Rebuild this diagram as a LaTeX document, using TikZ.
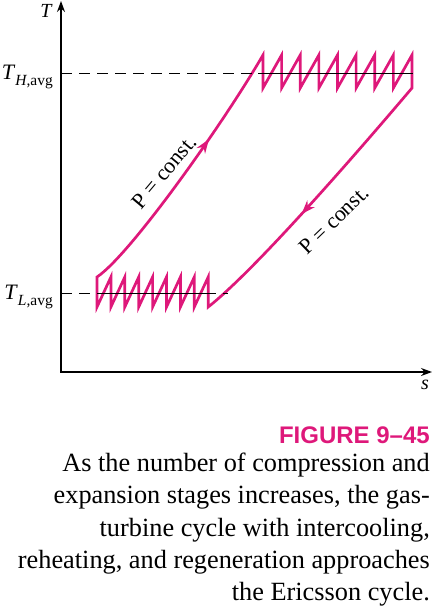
\documentclass[tikz,border=0pt]{standalone}
\usepackage{fontspec}
\setmainfont{Liberation Serif}
\newfontfamily\figfont{Liberation Sans}
\usetikzlibrary{arrows.meta, decorations.markings}
\definecolor{cyclemag}{RGB}{222, 24, 122}
\newcommand{\Tavg}[1]{\textit{T}\raisebox{-0.3em}{\fontsize{15.5}{15.5}\selectfont\textit{#1},avg}}

\begin{document}
\begin{tikzpicture}[x=1pt, y=-1pt,
  axisline/.style={line width=1.2pt},
  avgline/.style={line width=0.8pt, dash pattern=on 11pt off 7pt},
  cycleline/.style={cyclemag, line width=2.7pt, line join=miter},
  midarrow/.style={postaction={decorate}, decoration={markings,
    mark=at position #1 with {\arrow{Stealth[length=14pt, width=10pt]}}}}]
  \useasboundingbox (0,0) rectangle (432,613);

  % Axes
  \draw[axisline, {Stealth[length=11pt, width=8pt]}-{Stealth[length=11pt, width=8pt]}] (61,1) -- (61,372) -- (432,372);
  \node[font=\fontsize{20}{20}\selectfont\itshape] (tlab) at (46,11) {T};
  \node[font=\fontsize{20}{20}\selectfont\itshape] (slab) at (425,385) {s};

  % Ericsson-like cycle: heating, reheated expansion, regeneration, intercooled compression
  \draw[cycleline] (97,277) .. controls (130,255) and (223,124) .. (263,55)
    \foreach \i in {1,...,8} { -- ++(0,33) -- ++(18.625,-33) } -- ++(0,33)
    .. controls (373,134) and (260,266) .. (208.2,307)
    \foreach \i in {1,...,8} { -- ++(0,-30) -- ++(-13.9,30) } -- cycle;
  \path[cycleline, midarrow=0.64] (97,277) .. controls (130,255) and (223,124) .. (263,55);
  \path[cycleline, midarrow=0.56] (412,88) .. controls (373,134) and (260,266) .. (208.2,307);

  % Average temperatures
  \draw[avgline] (61,73) -- (413,73);
  \draw[line width=0.8pt] (258,73) -- (413,73);
  \draw[avgline] (61,293) -- (228,293);
  \draw[line width=0.8pt] (97,293) -- (208,293);
  \node[anchor=base east, font=\fontsize{22}{22}\selectfont, inner sep=0pt] (th) at (53,79) {\Tavg{H}};
  \node[anchor=base east, font=\fontsize{22}{22}\selectfont, inner sep=0pt] (tl) at (53,299) {\Tavg{L}};

  % Process labels
  \node[rotate=50, font=\fontsize{22}{22}\selectfont] (pleft) at (164,172) {P = const.};
  \node[rotate=44, font=\fontsize{22}{22}\selectfont] (pright) at (334,220) {P = const.};

  % Caption
  \node[anchor=base east, inner sep=0pt, font=\figfont\bfseries\fontsize{24}{24}\selectfont, text=cyclemag] (fig) at (430,443) {FIGURE 9–45};
  \node[anchor=north east, align=right, inner sep=0pt, font=\fontsize{26.3}{32.2}\selectfont] (cap) at (430,453) {As the number of compression and\\
    expansion stages increases, the gas-\\
    turbine cycle with intercooling,\\
    reheating, and regeneration approaches\\
    the Ericsson cycle.};
\end{tikzpicture}
\end{document}
